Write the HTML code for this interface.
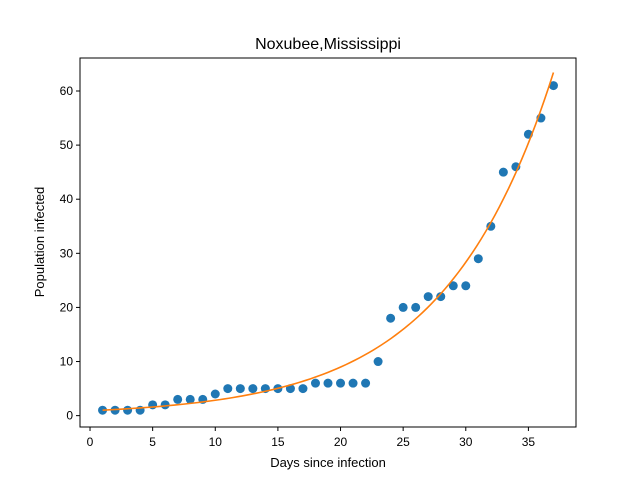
<!DOCTYPE html>
<html><head><meta charset="utf-8"><style>
body{margin:0;background:#fff;}
svg{display:block;font-family:"Liberation Sans","DejaVu Sans",sans-serif;}
</style></head><body>
<svg id="chart" width="640" height="480">
<text x="328" y="49" font-size="16" text-anchor="middle">Noxubee,Mississippi</text>
<g id="ticks"></g>
<g id="marks"></g>
<rect x="80" y="58" width="496" height="369" fill="none" stroke="#000" stroke-width="1"/>
<text x="328" y="467" font-size="13" text-anchor="middle">Days since infection</text>
<text x="44" y="242" font-size="13" text-anchor="middle" transform="rotate(-90 44 242)">Population infected</text>
</svg>
<script>
const days=[1,2,3,4,5,6,7,8,9,10,11,12,13,14,15,16,17,18,19,20,21,22,23,24,25,26,27,28,29,30,31,32,33,34,35,36,37];
const infected=[1,1,1,1,2,2,3,3,3,4,5,5,5,5,5,5,5,6,6,6,6,6,10,18,20,20,22,22,24,24,29,35,45,46,52,55,61];
const fitParams=[0.9,0.115];
const xTicks=[0,5,10,15,20,25,30,35];
const yTicks=[0,10,20,30,40,50,60];
const NS="http://www.w3.org/2000/svg";
const xMin=-0.8,xMax=38.8,yMin=-2.1,yMax=66.1;
function sx(v){return 80+(v-xMin)/(xMax-xMin)*496;}
function sy(v){return 427-(v-yMin)/(yMax-yMin)*369;}
const tg=document.getElementById('ticks'),mg=document.getElementById('marks');
function mk(t,a,p){const e=document.createElementNS(NS,t);for(const k in a)e.setAttribute(k,a[k]);p.appendChild(e);return e;}
xTicks.forEach(v=>{
 const l=mk('line',{x1:sx(v),x2:sx(v),y1:427,y2:431,stroke:'#000'},tg);
 
 
 const t=mk('text',{x:sx(v),y:446,'font-size':12,'text-anchor':'middle'},tg);t.textContent=v;
 
 
});
yTicks.forEach(v=>{
 const l=mk('line',{x1:76,x2:80,y1:sy(v),y2:sy(v),stroke:'#000'},tg);
 
 
 const t=mk('text',{x:73,y:sy(v)+4,'font-size':12,'text-anchor':'end'},tg);t.textContent=v;
 
 
});
days.forEach((d,i)=>{
 const c=mk('circle',{cx:sx(d),cy:sy(infected[i]),r:4.5,fill:'#1f77b4'},mg);
 
 
});
let pts=[];
for(let i=0;i<=100;i++){const x=days[0]+(days[days.length-1]-days[0])*i/100;pts.push(sx(x).toFixed(2)+','+sy(fitParams[0]*Math.exp(fitParams[1]*x)).toFixed(2));}
const fl=mk('polyline',{points:pts.join(' '),fill:'none',stroke:'#ff7f0e','stroke-width':1.6},mg);


</script>
</body></html>
